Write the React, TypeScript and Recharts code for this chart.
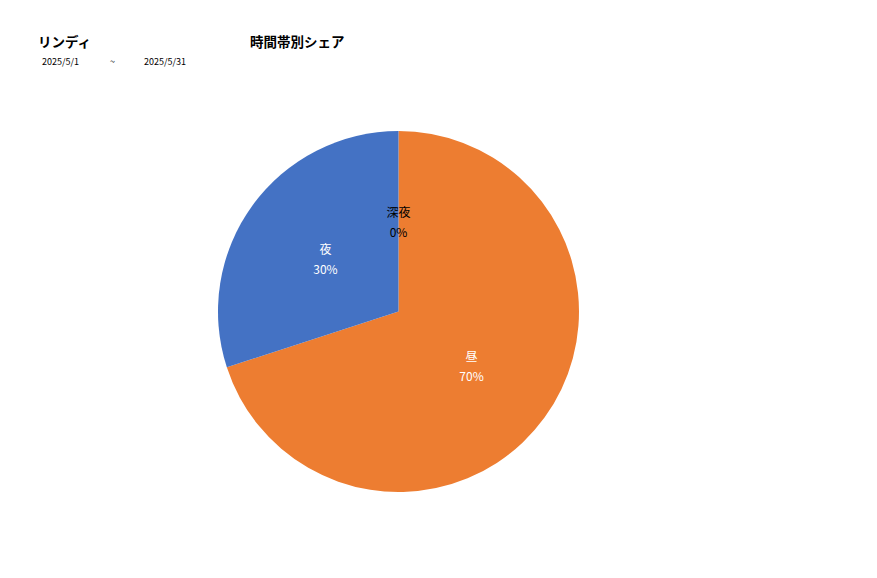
import { PieChart, Pie, Cell } from 'recharts';

const categories = ['昼', '夜', '深夜'];
const shares = [70, 30, 0];
const colors = ['#ED7D31', '#4472C4', '#A5A5A5'];
const labelColors = ['#ffffff', '#ffffff', '#000000'];

const data = categories.map((name, i) => ({ name, value: shares[i] }));

const FONT = '"Noto Sans CJK JP", "Noto Sans", sans-serif';
const RAD = Math.PI / 180;

function renderLabel(props: any) {
  const { cx, cy, midAngle, outerRadius, index, name, value } = props;
  const r = outerRadius * 0.5;
  const x = cx + r * Math.cos(-midAngle * RAD);
  const y = cy + r * Math.sin(-midAngle * RAD);
  return (
    <text x={x} y={y} fill={labelColors[index]} fontSize={12} fontFamily={FONT} textAnchor="middle">
      <tspan x={x} dy={-4}>{name}</tspan>
      <tspan x={x} dy={20}>{`${value}%`}</tspan>
    </text>
  );
}

export default function App() {
  return (
    <div style={{ position: 'absolute', left: 0, top: 0, width: 877, height: 578, background: '#fff', fontFamily: FONT }}>
      <div style={{ position: 'absolute', left: 38, top: 31, fontSize: 13.5, fontWeight: 'bold' }}>リンディ</div>
      <div style={{ position: 'absolute', left: 250, top: 31, fontSize: 13.5, fontWeight: 'bold' }}>時間帯別シェア</div>
      <div style={{ position: 'absolute', left: 42, top: 55, fontSize: 9 }}>2025/5/1</div>
      <div style={{ position: 'absolute', left: 110, top: 55, fontSize: 9 }}>~</div>
      <div style={{ position: 'absolute', left: 144, top: 55, fontSize: 9 }}>2025/5/31</div>
      <PieChart width={877} height={578} margin={{ top: 0, right: 0, bottom: 0, left: 0 }}>
        <Pie
          data={data}
          dataKey="value"
          nameKey="name"
          cx={398.5}
          cy={311.5}
          outerRadius={180.5}
          startAngle={90}
          endAngle={-270}
          stroke="none"
          label={renderLabel}
          labelLine={false}
          isAnimationActive={false}
        >
          {data.map((d, i) => (
            <Cell key={d.name} fill={colors[i]} />
          ))}
        </Pie>
      </PieChart>
    </div>
  );
}
